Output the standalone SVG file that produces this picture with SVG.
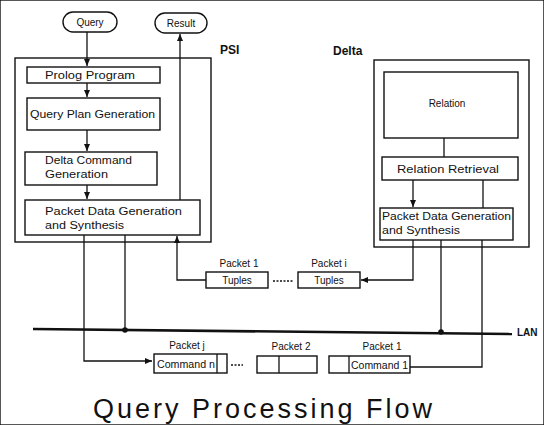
<svg xmlns="http://www.w3.org/2000/svg" width="544" height="425" viewBox="0 0 544 425">
<defs>
<marker id="ah" markerWidth="8" markerHeight="8" refX="7" refY="4" orient="auto" markerUnits="userSpaceOnUse">
<path d="M0,1 L7,4 L0,7 Z" fill="#111"/>
</marker>
<style>
rect{fill:#fff;stroke:#111;stroke-width:1.4}
.ln{fill:none;stroke:#111;stroke-width:1.3}
text{font-family:"Liberation Sans",Arial,sans-serif;font-size:10px;fill:#111}
.lbl{font-size:12px;font-weight:bold}
.ttl{font-size:27px}
.dot{fill:#111}
</style>
</defs>
<rect width="544" height="425" fill="#fff" stroke="none"/>

<g id="query"><rect x="63" y="12" width="54" height="20" rx="10"/><text x="90" y="26" text-anchor="middle">Query</text></g>
<g id="result"><rect x="155" y="13" width="52" height="20" rx="10"/><text x="181" y="27" text-anchor="middle">Result</text></g>

<g id="psi">
<rect x="15" y="58" width="196" height="184"/>
<text class="lbl" x="220" y="54">PSI</text>
</g>
<g id="prolog"><rect x="27" y="67" width="133" height="16"/><text x="45" y="79" textLength="90" lengthAdjust="spacingAndGlyphs">Prolog Program</text></g>
<g id="qplan"><rect x="27" y="98" width="133" height="32"/><text x="30" y="118" textLength="125" lengthAdjust="spacingAndGlyphs">Query Plan Generation</text></g>
<g id="dcmd"><rect x="25" y="152" width="132" height="33"/><text x="45" y="164" textLength="87" lengthAdjust="spacingAndGlyphs">Delta Command</text><text x="45" y="178" textLength="63" lengthAdjust="spacingAndGlyphs">Generation</text></g>
<g id="psipkt"><rect x="25" y="200" width="175" height="35"/><text x="45" y="215" textLength="137" lengthAdjust="spacingAndGlyphs">Packet Data Generation</text><text x="45" y="229" textLength="79" lengthAdjust="spacingAndGlyphs">and Synthesis</text></g>

<g id="delta">
<rect x="374" y="60" width="155" height="187"/>
<text class="lbl" x="333" y="55">Delta</text>
</g>
<g id="relation"><rect x="384" y="72" width="134" height="66"/><text x="447" y="107" text-anchor="middle">Relation</text></g>
<g id="retrieval"><rect x="382" y="157" width="136" height="23"/><text x="397" y="173" textLength="102" lengthAdjust="spacingAndGlyphs">Relation Retrieval</text></g>
<g id="deltapkt"><rect x="380" y="208" width="133" height="32"/><text x="382" y="220" textLength="129" lengthAdjust="spacingAndGlyphs">Packet Data Generation</text><text x="382" y="234" textLength="78" lengthAdjust="spacingAndGlyphs">and Synthesis</text></g>

<g id="tuples1"><text x="239" y="267" text-anchor="middle">Packet 1</text><rect x="206" y="272" width="62" height="16"/><text x="237" y="284" text-anchor="middle">Tuples</text></g>
<g id="tuplesi"><text x="329" y="267" text-anchor="middle">Packet i</text><rect x="298" y="272" width="62" height="16"/><text x="329" y="284" text-anchor="middle">Tuples</text></g>

<g id="cmdn"><text x="187" y="349" text-anchor="middle">Packet j</text><rect x="154" y="354" width="73" height="19"/><line class="ln" x1="217" y1="354" x2="217" y2="373"/><text x="157" y="368" textLength="58" lengthAdjust="spacingAndGlyphs">Command n</text></g>
<g id="pkt2"><text x="291" y="350" text-anchor="middle">Packet 2</text><rect x="257" y="356" width="60" height="17"/><line class="ln" x1="279" y1="356" x2="279" y2="373"/></g>
<g id="cmd1"><text x="382" y="350" text-anchor="middle">Packet 1</text><rect x="329" y="356" width="81" height="17"/><line class="ln" x1="349" y1="356" x2="349" y2="373"/><text x="351" y="369" textLength="57" lengthAdjust="spacingAndGlyphs">Command 1</text></g>

<g id="lan">
<line x1="33" y1="329" x2="512" y2="334" stroke="#111" stroke-width="2.6"/>
<text x="517" y="336" font-weight="bold">LAN</text>
</g>

<g id="connectors">
<line class="ln" x1="87" y1="32" x2="87" y2="66" marker-end="url(#ah)"/>
<line class="ln" x1="87" y1="83" x2="87" y2="97" marker-end="url(#ah)"/>
<line class="ln" x1="87" y1="130" x2="87" y2="151" marker-end="url(#ah)"/>
<line class="ln" x1="87" y1="185" x2="87" y2="199" marker-end="url(#ah)"/>
<line class="ln" x1="180" y1="200" x2="180" y2="34" marker-end="url(#ah)"/>
<polyline class="ln" points="84,235 84,361 152,361" marker-end="url(#ah)"/>
<line class="ln" x1="125" y1="235" x2="125" y2="330"/>
<circle class="dot" cx="125" cy="330" r="2.8"/>
<polyline class="ln" points="206,280 177,280 177,236" marker-end="url(#ah)"/>
<line class="ln" x1="273" y1="281" x2="294" y2="281" stroke-dasharray="2,1.5"/>
<line class="ln" x1="444" y1="138" x2="444" y2="157"/>
<line class="ln" x1="413" y1="180" x2="413" y2="207" marker-end="url(#ah)"/>
<line class="ln" x1="483" y1="180" x2="483" y2="208"/>
<polyline class="ln" points="413,240 413,280 361,280" marker-end="url(#ah)"/>
<line class="ln" x1="441" y1="240" x2="441" y2="332"/>
<circle class="dot" cx="441" cy="332" r="2.8"/>
<polyline class="ln" points="482,240 482,367 410,367"/>
<line class="ln" x1="231" y1="365" x2="243" y2="365" stroke-dasharray="2,1.5"/>
</g>

<text class="ttl" x="93" y="418" textLength="339" lengthAdjust="spacing">Query Processing Flow</text>
</svg>
